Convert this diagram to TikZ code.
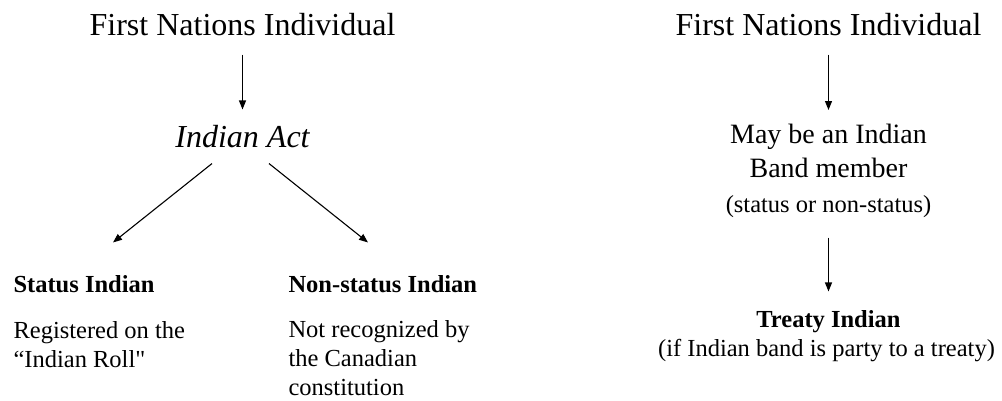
\documentclass[tikz,border=0pt]{standalone}
\usepackage{fontspec}
\setmainfont{Liberation Serif}[Ligatures=TeXOff]
\usetikzlibrary{arrows.meta}
\def\colsep{586}

\begin{document}
\begin{tikzpicture}[x=1pt,y=-1pt,->,>={Triangle[length=9pt,width=7pt]},line width=1.1pt]
    \tikzstyle{heading}=[inner sep=0pt,anchor=base,font=\fontsize{32}{38}\selectfont,text height=23pt,text depth=0pt]
    \tikzstyle{kind}=[inner sep=0pt,anchor=base west,font=\fontsize{24.5}{29}\selectfont\bfseries,text height=17pt,text depth=0pt]
    \tikzstyle{note}=[inner sep=0pt,anchor=base west,align=left,font=\fontsize{24.5}{29}\selectfont]
    \useasboundingbox (0,0) rectangle (1002,400);

    % Left tree: individual, Indian Act and its two kinds
    \node[heading] (fni-1) at (242.5,35) {First Nations Individual};
    \node[heading,font=\fontsize{32}{38}\selectfont\itshape] (act) at (242.5,147) {Indian Act};
    \node[kind] (status) at (13,292) {Status Indian};
    \node[note] (status-note) at (13,367) {Registered on the\\“Indian Roll"};
    \node[kind] (nonstatus) at (288,292) {Non-status Indian};
    \node[note] (nonstatus-note) at (288,395) {Not recognized by\\the Canadian\\constitution};

    \draw[shorten <=19pt,shorten >=14pt] (fni-1) -- (act);
    \draw ([xshift=-30.5pt,yshift=-16pt]act.south) -- ([xshift=100pt,yshift=32pt]status.north west);
    \draw ([xshift=26.5pt,yshift=-16pt]act.south) -- ([xshift=80pt,yshift=32pt]nonstatus.north west);

    % Right tree: band membership and treaty
    \node[heading] (fni-2) at (242.5+\colsep,35) {First Nations Individual};
    \node[inner sep=0pt,anchor=north,align=center,font=\fontsize{28}{34}\selectfont] (band) at (828.5,124) {May be an Indian\\Band member};
    \node[inner sep=0pt,anchor=base,font=\fontsize{24.5}{29}\selectfont,text height=17pt,text depth=6pt] (band-note) at (828.5,212) {(status or non-status)};
    \node[kind,anchor=base] (treaty) at (828.5,327) {Treaty Indian};
    \node[inner sep=0pt,anchor=base,font=\fontsize{24.5}{29}\selectfont] (treaty-note) at (826.5,356) {(if Indian band is party to a treaty)};

    \draw[shorten <=19pt,shorten >=14pt] (fni-2.south) -- (band.north);
    \draw[shorten <=19pt,shorten >=18pt] (band-note) -- (treaty);
\end{tikzpicture}
\end{document}
